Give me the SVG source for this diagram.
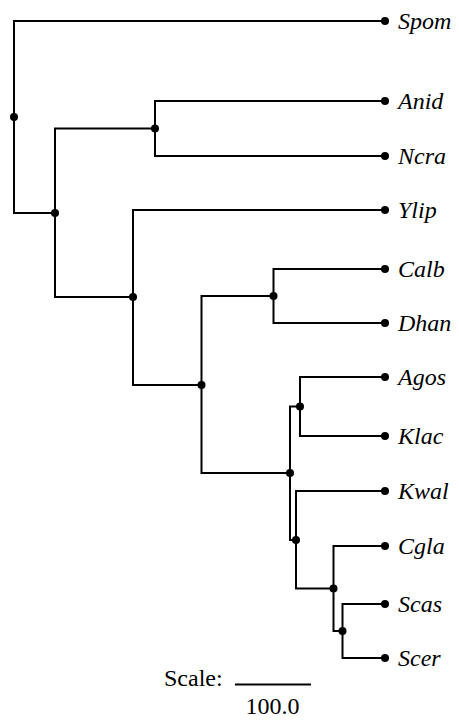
<svg xmlns="http://www.w3.org/2000/svg" width="459" height="725" viewBox="0 0 459 725">
<style>
.e{fill:none;stroke:#000;stroke-width:2;stroke-linejoin:miter}
.d{fill:#000}
.lab{font-family:"Liberation Serif","Times New Roman",serif;font-style:italic;font-size:24px;fill:#000}
.rm{font-family:"Liberation Serif","Times New Roman",serif;font-size:24px;fill:#000}
</style>
<rect width="459" height="725" fill="#fff"/>
<g id="connectors">
<path class="e" d="M14 117V21H385"/>
<path class="e" d="M14 117V213H55"/>
<path class="e" d="M55 213V128.5H155"/>
<path class="e" d="M155 128.5V101H385"/>
<path class="e" d="M155 128.5V156H385"/>
<path class="e" d="M55 213V297H133"/>
<path class="e" d="M133 297V210H385"/>
<path class="e" d="M133 297V385H201.5"/>
<path class="e" d="M201.5 385V296H273.5"/>
<path class="e" d="M273.5 296V269H385"/>
<path class="e" d="M273.5 296V323H385"/>
<path class="e" d="M201.5 385V473H290"/>
<path class="e" d="M290 473V406.5H300"/>
<path class="e" d="M300 406.5V377H385"/>
<path class="e" d="M300 406.5V436H385"/>
<path class="e" d="M290 473V540H296"/>
<path class="e" d="M296 540V491H385"/>
<path class="e" d="M296 540V588.5H333.5"/>
<path class="e" d="M333.5 588.5V546H385"/>
<path class="e" d="M333.5 588.5V631H342.5"/>
<path class="e" d="M342.5 631V604H385"/>
<path class="e" d="M342.5 631V658H385"/>
</g>
<g id="n_root"><circle class="d" cx="14" cy="117" r="4"/></g>
<g id="n1"><circle class="d" cx="155" cy="128.5" r="4"/></g>
<g id="n2"><circle class="d" cx="55" cy="213" r="4"/></g>
<g id="n3"><circle class="d" cx="133" cy="297" r="4"/></g>
<g id="n4"><circle class="d" cx="201.5" cy="385" r="4"/></g>
<g id="n5"><circle class="d" cx="273.5" cy="296" r="4"/></g>
<g id="n6"><circle class="d" cx="290" cy="473" r="4"/></g>
<g id="n7"><circle class="d" cx="300" cy="406.5" r="4"/></g>
<g id="n8"><circle class="d" cx="296" cy="540" r="4"/></g>
<g id="n9"><circle class="d" cx="333.5" cy="588.5" r="4"/></g>
<g id="n10"><circle class="d" cx="342.5" cy="631" r="4"/></g>
<g id="Spom"><circle class="d" cx="385" cy="21" r="4"/><text class="lab" x="398" y="29">Spom</text></g>
<g id="Anid"><circle class="d" cx="385" cy="101" r="4"/><text class="lab" x="398" y="109">Anid</text></g>
<g id="Ncra"><circle class="d" cx="385" cy="156" r="4"/><text class="lab" x="398" y="164">Ncra</text></g>
<g id="Ylip"><circle class="d" cx="385" cy="210" r="4"/><text class="lab" x="398" y="218">Ylip</text></g>
<g id="Calb"><circle class="d" cx="385" cy="269" r="4"/><text class="lab" x="398" y="277">Calb</text></g>
<g id="Dhan"><circle class="d" cx="385" cy="323" r="4"/><text class="lab" x="398" y="331">Dhan</text></g>
<g id="Agos"><circle class="d" cx="385" cy="377" r="4"/><text class="lab" x="398" y="385">Agos</text></g>
<g id="Klac"><circle class="d" cx="385" cy="436" r="4"/><text class="lab" x="398" y="444">Klac</text></g>
<g id="Kwal"><circle class="d" cx="385" cy="491" r="4"/><text class="lab" x="398" y="499">Kwal</text></g>
<g id="Cgla"><circle class="d" cx="385" cy="546" r="4"/><text class="lab" x="398" y="554">Cgla</text></g>
<g id="Scas"><circle class="d" cx="385" cy="604" r="4"/><text class="lab" x="398" y="612">Scas</text></g>
<g id="Scer"><circle class="d" cx="385" cy="658" r="4"/><text class="lab" x="398" y="666">Scer</text></g>
<g id="scale">
<text class="rm" x="164" y="686">Scale:</text>
<line x1="235" y1="684.5" x2="311" y2="684.5" stroke="#000" stroke-width="2"/>
<text class="rm" x="272.5" y="714" text-anchor="middle">100.0</text>
</g>
</svg>
